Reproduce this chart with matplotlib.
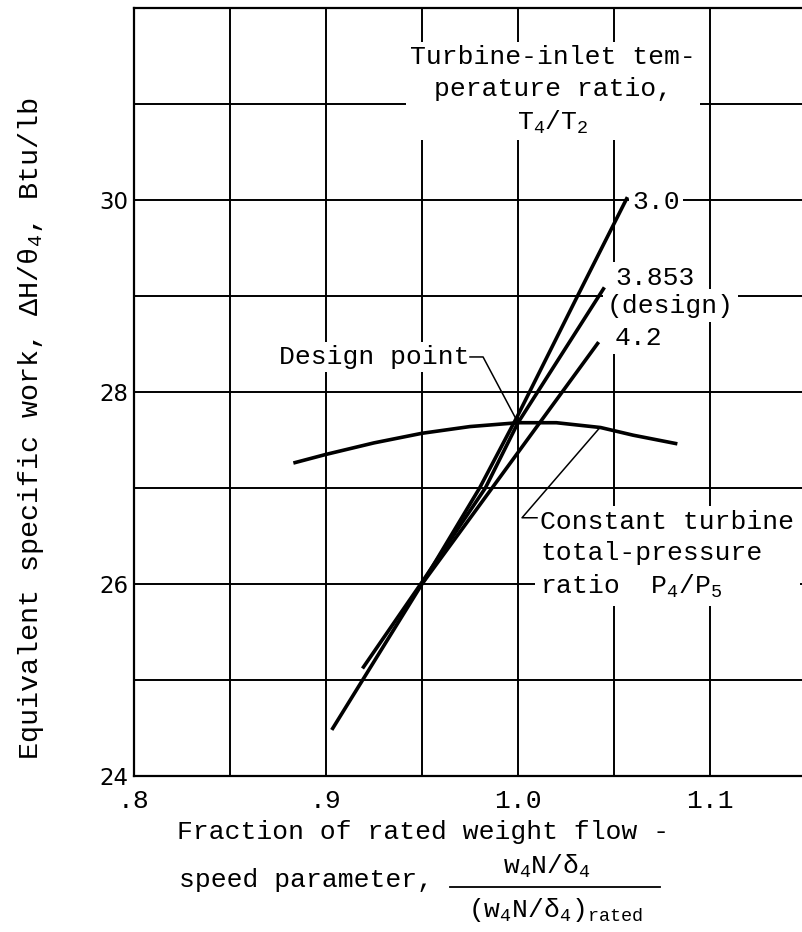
import numpy as np
import matplotlib
matplotlib.use("Agg")
import matplotlib.pyplot as plt
from matplotlib.lines import Line2D

plt.rcParams['font.family'] = ['Liberation Mono', 'DejaVu Sans Mono']
plt.rcParams['mathtext.fontset'] = 'custom'
plt.rcParams['mathtext.rm'] = 'Liberation Mono'
plt.rcParams['mathtext.it'] = 'Liberation Mono'
plt.rcParams['mathtext.bf'] = 'Liberation Mono:bold'

W, H = 803, 932
FS = 19

# constant turbine total-pressure ratio curve
flow_p = [0.883, 0.900, 0.925, 0.950, 0.975, 1.000, 1.020, 1.043, 1.060, 1.083]
work_p = [27.26, 27.35, 27.47, 27.57, 27.64, 27.68, 27.68, 27.63, 27.55, 27.46]

# lines of constant turbine-inlet temperature ratio T4/T2
flow_30 = [0.903, 0.950, 0.980, 1.000, 1.031, 1.057]
work_30 = [24.48, 26.00, 27.00, 27.76, 29.00, 30.03]
flow_3853 = [0.919, 0.950, 0.983, 1.000, 1.045]
work_3853 = [25.12, 26.02, 27.00, 27.68, 29.09]
flow_42 = [0.950, 0.9865, 1.000, 1.042]
work_42 = [26.00, 27.00, 27.37, 28.52]

design_flow, design_work = 1.0, 27.68

x_major = [0.8, 0.9, 1.0, 1.1]
x_labels = ['.8', '.9', '1.0', '1.1']
x_minor = [0.85, 0.95, 1.05]
y_major = [24, 26, 28, 30]
y_minor = [25, 27, 29, 31]


def fx(px):
    return px / W


def fy(py):
    return 1 - py / H


fig = plt.figure(figsize=(W / 100, H / 100), dpi=100)
ax = fig.add_axes([fx(134), fy(776), (806 - 134) / W, (776 - 8) / H])
ax.set_xlim(0.8, 1.15)
ax.set_ylim(24, 32)

ax.set_xticks(x_major)
ax.set_xticklabels(x_labels)
ax.set_xticks(x_minor, minor=True)
ax.set_yticks(y_major)
ax.set_yticks(y_minor, minor=True)
ax.tick_params(which='both', length=0)
ax.tick_params(axis='x', pad=9, labelsize=FS)
ax.tick_params(axis='y', pad=4)
for lab in ax.get_yticklabels():
    lab.set_fontfamily('DejaVu Sans')
    lab.set_fontsize(16.5)

ax.set_axisbelow(True)
ax.grid(which='both', color='black', lw=1.4)
for s in ax.spines.values():
    s.set_linewidth(1.6)

lw = 2.6
ax.plot(flow_p, work_p, color='black', lw=lw, zorder=4, solid_capstyle='butt')
ax.plot(flow_30, work_30, color='black', lw=lw, zorder=4, solid_capstyle='butt')
ax.plot(flow_3853, work_3853, color='black', lw=lw, zorder=4, solid_capstyle='butt')
ax.plot(flow_42, work_42, color='black', lw=lw, zorder=4, solid_capstyle='butt')

box = dict(facecolor='white', edgecolor='none', pad=3)

ax.text(1.0182, 31.14, 'Turbine-inlet tem-\nperature ratio,\nT$_4$/T$_2$',
        ha='center', va='center', multialignment='center', fontsize=FS,
        linespacing=1.38, bbox=box, zorder=3)
ax.text(1.0594, 29.98, '3.0', ha='left', va='center', fontsize=FS,
        bbox=dict(facecolor='white', edgecolor='none', pad=2), zorder=3)
ax.text(1.0505, 29.19, '3.853', ha='left', va='center', fontsize=FS,
        bbox=box, zorder=3)
ax.text(1.0463, 28.90, '(design)', ha='left', va='center', fontsize=FS,
        bbox=box, zorder=3)
ax.text(1.0505, 28.56, '4.2', ha='left', va='center', fontsize=FS,
        bbox=box, zorder=3)

# design point label and leader
ax.text(0.9745, 28.365, 'Design point', ha='right', va='center', fontsize=FS,
        bbox=dict(facecolor='white', edgecolor='none', pad=2), zorder=3)
ax.plot([0.9750, 0.9818, design_flow], [28.365, 28.365, design_work],
        color='black', lw=1.1, zorder=4)

# pressure-ratio label and leader to the curve
ax.text(1.0115, 26.30, 'Constant turbine\ntotal-pressure\nratio  P$_4$/P$_5$',
        ha='left', va='center', multialignment='left', fontsize=FS,
        linespacing=1.36, bbox=dict(facecolor='white', edgecolor='none', pad=4),
        zorder=3)
lead_x = 1.0427
ax.plot([1.0099, 1.0021, lead_x], [26.69, 26.69, np.interp(lead_x, flow_p, work_p)],
        color='black', lw=1.1, zorder=4)

# axis titles
fig.text(fx(31), fy(428), 'Equivalent specific work, ΔH/θ$_4$, Btu/lb',
         rotation=90, ha='center', va='center', fontsize=20.5)
fig.text(fx(177), fy(832), 'Fraction of rated weight flow -',
         ha='left', va='center', fontsize=FS)
fig.text(fx(179), fy(880), 'speed parameter,',
         ha='left', va='center', fontsize=FS)
fig.text(fx(547), fy(866), 'w$_4$N/δ$_4$', ha='center', va='center', fontsize=FS)
fig.add_artist(Line2D([fx(450), fx(660)], [fy(887), fy(887)],
                      transform=fig.transFigure, color='black', lw=1.3))
fig.text(fx(556), fy(910), '(w$_4$N/δ$_4$)$_\\mathrm{rated}$',
         ha='center', va='center', fontsize=FS)

fig.savefig('out.png', dpi=100)
